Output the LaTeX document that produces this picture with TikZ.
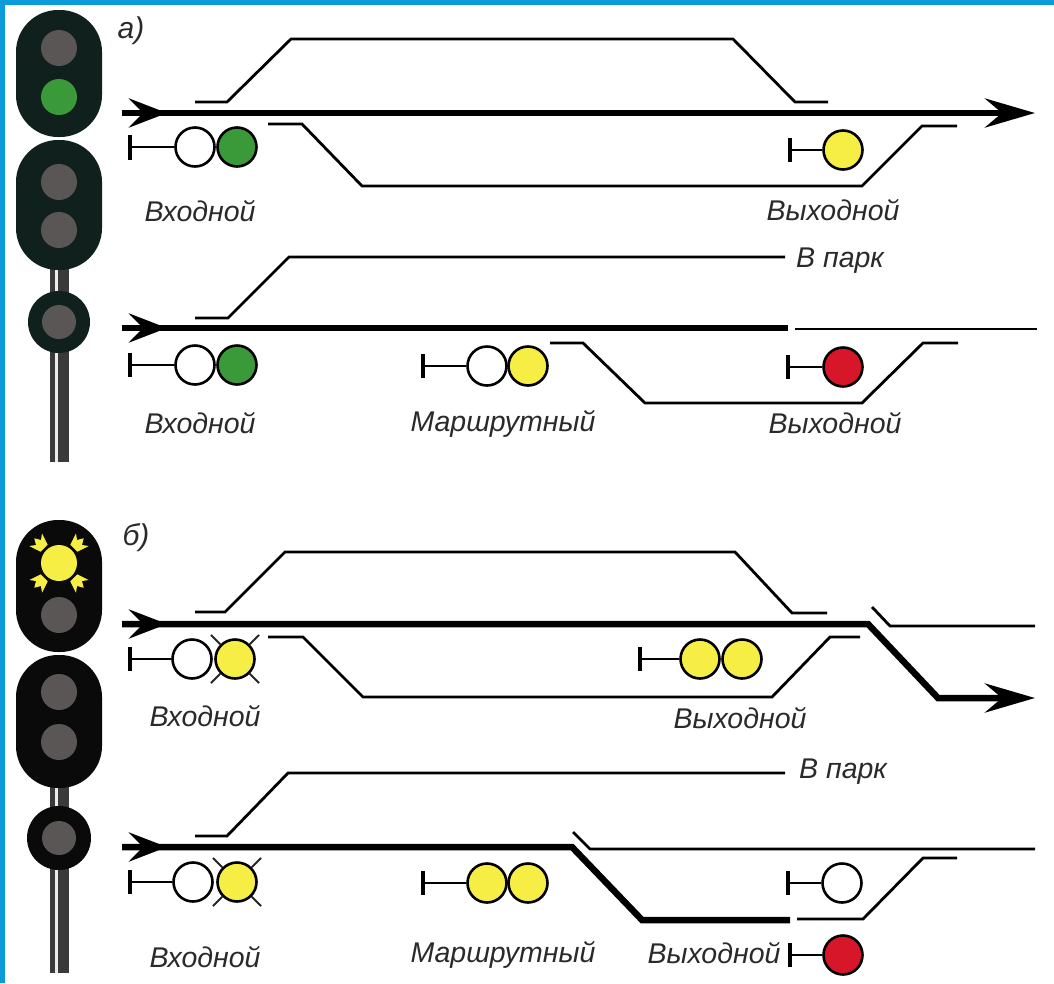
\documentclass[tikz,border=0pt]{standalone}
\usepackage{fontspec}
\setmainfont{Liberation Sans}
\usetikzlibrary{arrows.meta}
\definecolor{bord}{HTML}{0A9BD8}
\definecolor{heada}{HTML}{10201C}
\definecolor{headb}{HTML}{0A0A0A}
\definecolor{lampoff}{HTML}{5A5656}
\definecolor{lgreen}{HTML}{3A9A3A}
\definecolor{lyellow}{HTML}{F7EE45}
\definecolor{lred}{HTML}{D8162A}
\definecolor{txt}{HTML}{2A2A2A}
\definecolor{polec}{HTML}{3A3A3A}
\tikzset{
  trk/.style={line width=2.8pt, draw=black, line join=miter},
  mainline/.style={line width=6.5pt, draw=black, line join=miter},
  larrow/.style={mainline, -{Stealth[length=38pt,width=29pt,inset=14pt]}},
  rarrow/.style={mainline, -{Stealth[length=50pt,width=29pt,inset=17pt]}},
  lamp/.style={circle, draw=black, line width=2.6pt, minimum size=39pt, inner sep=0pt},
  tick/.style={line width=3.2pt, draw=black},
  lbl/.style={font=\fontsize{28.5}{32}\selectfont\itshape, text=txt, inner sep=0pt},
  ray/.style={line width=2pt, draw=black!85},
  flame/.style={fill=lyellow},
}
\newcommand{\raysat}[1]{\foreach \ang in {45,135,225,315} {\draw[ray] (#1.center) ++(\ang:21) -- ++(\ang:13);}}
\begin{document}
\begin{tikzpicture}[x=1pt,y=-1pt]
\useasboundingbox (0,0) rectangle (1054,983);
\fill[white] (0,0) rectangle (1054,983);
\fill[bord] (0,0) rectangle (1054,5);
\fill[bord] (0,0) rectangle (5,983);

% ===== signal mast a =====
\fill[polec] (50,265) rectangle (69,462);
\draw[white!85!gray, line width=3pt] (56.5,265) -- (56.5,462);
\fill[heada, rounded corners=42pt] (16,10) rectangle (102,137);
\fill[heada, rounded corners=42pt] (16,140) rectangle (102,270);
\fill[heada] (59,322) circle (31);
\fill[lampoff] (59,48) circle (18);
\fill[lgreen] (59,97) circle (18);
\fill[lampoff] (59,182) circle (18);
\fill[lampoff] (59,230) circle (18);
\fill[lampoff] (59,322) circle (17);

% ===== signal mast b =====
\fill[polec] (50,784) rectangle (69,973);
\draw[white!85!gray, line width=3pt] (56.5,784) -- (56.5,973);
\fill[headb, rounded corners=42pt] (16,520) rectangle (102,652);
\fill[headb, rounded corners=42pt] (16,655) rectangle (102,788);
\fill[headb] (59,838) circle (32);
\fill[lyellow] (59,563) circle (18);
\foreach \ang in {45,135,225,315} {
  \fill[flame, shift={(59,563)}, rotate=\ang]
    (21,-5) -- (33,-9) -- (29,-3.5) -- (35,0) -- (29,3.5) -- (33,9) -- (21,5) -- cycle;
}
\fill[lampoff] (59,615) circle (18);
\fill[lampoff] (59,692) circle (18);
\fill[lampoff] (59,742) circle (18);
\fill[lampoff] (59,838) circle (17);

% ===== panel a, group 1 =====
\node[lbl, font=\fontsize{30}{32}\selectfont\itshape] (la) at (131,31) {а)};
\coordinate (a1s) at (122,113);
\coordinate (a1e) at (1035,113);
\coordinate (a1m) at (167,113);
\draw[rarrow] (a1s) -- (a1e);
\draw[larrow] (a1s) -- (a1m);
\draw[trk] (195,102) -- (227,102) -- (291,39) -- (733,39) -- (795,102) -- (828,102);
\draw[trk] (268,124) -- (302,124) -- (362,186) -- (862,186) -- (922,126) -- (957,126);

\node[lamp, fill=white] (a1w) at (195,147) {};
\node[lamp, fill=lgreen] (a1g) at (237,147) {};
\coordinate (a1t) at (130,147);
\draw[trk] (a1t) -- (a1w);
\draw[tick] (130,135) -- (130,160);
\node[lamp, fill=lyellow] (a1x) at (843,150) {};
\coordinate (a1xt) at (790,150);
\draw[trk] (a1xt) -- (a1x);
\draw[tick] (790,138) -- (790,162);
\node[lbl] (a1l1) at (200,211) {Входной};
\node[lbl] (a1l2) at (833,210) {Выходной};

% ===== panel a, group 2 =====
\draw[trk] (195,318) -- (228,318) -- (289,257) -- (785,257);
\node[lbl, anchor=west] (a2p) at (796,261) {В парк};
\coordinate (a2s) at (122,328);
\coordinate (a2e) at (788,328);
\coordinate (a2m) at (167,328);
\draw[mainline] (a2s) -- (a2e);
\draw[larrow] (a2s) -- (a2m);
\draw[trk] (795,329) -- (1037,329);
\draw[trk] (550,343) -- (583,343) -- (645,403) -- (862,403) -- (923,343) -- (958,343);

\node[lamp, fill=white] (a2w) at (195,365) {};
\node[lamp, fill=lgreen] (a2g) at (237,365) {};
\coordinate (a2t) at (130,365);
\draw[trk] (a2t) -- (a2w);
\draw[tick] (130,353) -- (130,377);
\node[lamp, fill=white] (a2mw) at (487,366) {};
\node[lamp, fill=lyellow] (a2my) at (528,366) {};
\coordinate (a2mt) at (423,366);
\draw[trk] (a2mt) -- (a2mw);
\draw[tick] (423,354) -- (423,378);
\node[lamp, fill=lred] (a2r) at (843,367) {};
\coordinate (a2rt) at (788,367);
\draw[trk] (a2rt) -- (a2r);
\draw[tick] (788,355) -- (788,379);
\node[lbl] (a2l1) at (200,423) {Входной};
\node[lbl] (a2l2) at (503,424) {Маршрутный};
\node[lbl] (a2l3) at (835,423) {Выходной};

% ===== panel b, group 1 =====
\node[lbl, font=\fontsize{30}{32}\selectfont\itshape] (lb) at (136,538) {б)};
\coordinate (b1s) at (122,624);
\coordinate (b1k1) at (868,624);
\coordinate (b1k2) at (938,698);
\coordinate (b1e) at (1035,698);
\coordinate (b1m) at (167,624);
\draw[rarrow] (b1s) -- (b1k1) -- (b1k2) -- (b1e);
\draw[larrow] (b1s) -- (b1m);
\draw[trk] (872,607) -- (890,626) -- (1035,626);
\draw[trk] (195,612) -- (225,612) -- (285,552) -- (735,552) -- (792,613) -- (827,613);
\draw[trk] (268,637) -- (303,637) -- (363,697) -- (772,697) -- (830,637) -- (860,637);

\node[lamp, fill=white] (b1w) at (192,659) {};
\node[lamp, fill=lyellow] (b1y) at (235,659) {};
\raysat{b1y}
\coordinate (b1t) at (130,659);
\draw[trk] (b1t) -- (b1w);
\draw[tick] (130,647) -- (130,671);
\node[lamp, fill=lyellow] (b1x1) at (700,659) {};
\node[lamp, fill=lyellow] (b1x2) at (742,659) {};
\coordinate (b1xt) at (640,659);
\draw[trk] (b1xt) -- (b1x1);
\draw[tick] (640,647) -- (640,671);
\node[lbl] (b1l1) at (205,716) {Входной};
\node[lbl] (b1l2) at (740,718) {Выходной};

% ===== panel b, group 2 =====
\draw[trk] (195,836) -- (227,836) -- (288,773) -- (785,773);
\node[lbl, anchor=west] (b2p) at (799,772) {В парк};
\coordinate (b2s) at (122,847);
\coordinate (b2k1) at (572,847);
\coordinate (b2k2) at (642,920);
\coordinate (b2e) at (790,920);
\coordinate (b2m) at (167,847);
\draw[mainline] (b2s) -- (b2k1) -- (b2k2) -- (b2e);
\draw[larrow] (b2s) -- (b2m);
\draw[trk] (573,832) -- (590,849) -- (1035,849);
\draw[trk] (797,919) -- (863,919) -- (923,858) -- (957,858);

\node[lamp, fill=white] (b2w) at (193,882) {};
\node[lamp, fill=lyellow] (b2y) at (237,882) {};
\raysat{b2y}
\coordinate (b2t) at (130,882);
\draw[trk] (b2t) -- (b2w);
\draw[tick] (130,870) -- (130,894);
\node[lamp, fill=lyellow] (b2m1) at (487,883) {};
\node[lamp, fill=lyellow] (b2m2) at (528,883) {};
\coordinate (b2mt) at (423,883);
\draw[trk] (b2mt) -- (b2m1);
\draw[tick] (423,871) -- (423,895);
\node[lamp, fill=white] (b2xw) at (842,883) {};
\coordinate (b2xwt) at (788,883);
\draw[trk] (b2xwt) -- (b2xw);
\draw[tick] (788,871) -- (788,895);
\node[lamp, fill=lred] (b2xr) at (843,955) {};
\coordinate (b2xrt) at (790,955);
\draw[trk] (b2xrt) -- (b2xr);
\draw[tick] (790,943) -- (790,967);
\node[lbl] (b2l1) at (205,957) {Входной};
\node[lbl] (b2l2) at (503,955) {Маршрутный};
\node[lbl] (b2l3) at (714,953) {Выходной};
\end{tikzpicture}
\end{document}
